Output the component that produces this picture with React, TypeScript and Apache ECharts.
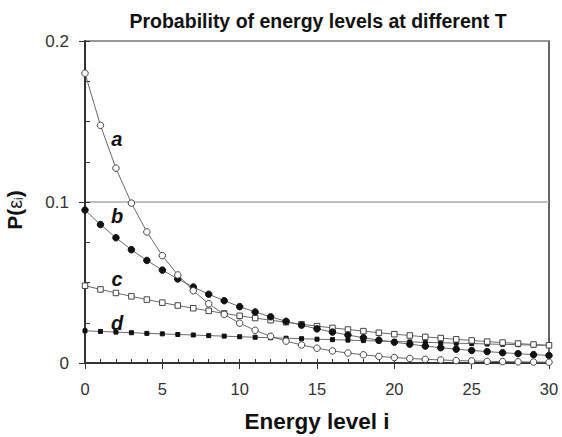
import React, { useEffect, useRef } from "react";
import * as echarts from "echarts";

const levels: number[] = Array.from({ length: 31 }, (_, i) => i);
const seriesA = [0.18, 0.1476, 0.121, 0.0993, 0.0814, 0.0667, 0.0547, 0.0449, 0.0368, 0.0302, 0.0247, 0.0203, 0.0166, 0.0136, 0.0112, 0.0092, 0.0075, 0.0062, 0.0051, 0.0041, 0.0034, 0.0028, 0.0023, 0.0019, 0.0015, 0.0013, 0.001, 0.0009, 0.0007, 0.0006, 0.0005];
const seriesB = [0.095, 0.086, 0.0778, 0.0704, 0.0637, 0.0577, 0.0522, 0.0472, 0.0427, 0.0387, 0.035, 0.0317, 0.0287, 0.0259, 0.0235, 0.0212, 0.0192, 0.0174, 0.0157, 0.0142, 0.0129, 0.0117, 0.0105, 0.0095, 0.0086, 0.0078, 0.0071, 0.0064, 0.0058, 0.0052, 0.0047];
const seriesC = [0.048, 0.0457, 0.0435, 0.0414, 0.0394, 0.0375, 0.0357, 0.034, 0.0324, 0.0308, 0.0293, 0.0279, 0.0266, 0.0253, 0.0241, 0.0229, 0.0218, 0.0208, 0.0198, 0.0188, 0.0179, 0.0171, 0.0162, 0.0155, 0.0147, 0.014, 0.0133, 0.0127, 0.0121, 0.0115, 0.011];
const seriesD = [0.02, 0.0196, 0.0192, 0.0188, 0.0184, 0.0181, 0.0177, 0.0174, 0.017, 0.0167, 0.0163, 0.016, 0.0157, 0.0154, 0.0151, 0.0148, 0.0145, 0.0142, 0.0139, 0.0136, 0.0134, 0.0131, 0.0128, 0.0126, 0.0123, 0.0121, 0.0118, 0.0116, 0.0114, 0.0111, 0.0109];
const curveNames = ["a", "b", "c", "d"];
const labelPos: [number, number][] = [[2.05, 0.139], [2.07, 0.091], [2.07, 0.052], [2.07, 0.025]];

const FONT = "'Liberation Sans', Arial, sans-serif";

export default function App() {
  const ref = useRef<HTMLDivElement>(null);
  useEffect(() => {
    document.body.style.margin = "0";
    const chart = echarts.init(ref.current!, undefined, { renderer: "svg" });
    const lineStyle = { color: "#6a6a6a", width: 1 };
    const mk = (i: number) => ({
      symbolSize: 0,
      silent: true,
      data: [
        {
          coord: labelPos[i],
          label: {
            show: true,
            position: "inside",
            formatter: curveNames[i],
            fontFamily: FONT,
            fontSize: 20,
            fontWeight: "bold",
            fontStyle: "italic",
            color: "#111",
          },
        },
      ],
    });
    const mkSeries = (i: number, vals: number[], symbol: string, size: number, fill: string, border: string) => ({
      type: "line",
      name: curveNames[i],
      data: levels.map((x, k) => [x, vals[k]]),
      xAxisIndex: 0,
      yAxisIndex: 0,
      symbol,
      symbolSize: size,
      showSymbol: true,
      lineStyle,
      itemStyle: { color: fill, borderColor: border, borderWidth: 1 },
      markPoint: mk(i),
      z: 5 - i,
    });
    chart.setOption({
      animation: false,
      textStyle: { fontFamily: FONT },
      title: {
        text: "Probability of energy levels at different T",
        left: 313,
        textAlign: "center",
        top: 6,
        textStyle: { fontFamily: FONT, fontSize: 19.5, fontWeight: "bold", color: "#111" },
      },
      grid: {
        left: 85,
        right: 13,
        top: 41,
        bottom: 74,
        outerBoundsMode: "none",
        containLabel: false,
        show: true,
        borderColor: "#333",
        borderWidth: 1.5,
        backgroundColor: "transparent",
      },
      xAxis: [
        {
          type: "value",
          min: 0,
          max: 30,
          interval: 5,
          axisLine: { show: true, lineStyle: { color: "#333", width: 2 } },
          axisTick: { show: true, inside: false, length: 6, lineStyle: { color: "#333", width: 1 } },
          axisLabel: { fontFamily: FONT, fontSize: 16.5, color: "#333", margin: 17 },
          splitLine: { show: false },
          name: "Energy level i",
          nameLocation: "middle",
          nameGap: 47,
          nameTextStyle: { fontFamily: FONT, fontSize: 22.5, fontWeight: "bold", color: "#111" },
        },
        {
          type: "value",
          min: 0,
          max: 30,
          interval: 1,
          position: "bottom",
          axisLine: { show: false },
          axisTick: { show: true, inside: true, length: 4, lineStyle: { color: "#333", width: 1 } },
          axisLabel: { show: false },
          splitLine: { show: false },
        },
      ],
      yAxis: [
        {
          type: "value",
          min: 0,
          max: 0.2,
          interval: 0.1,
          axisLine: { show: true, lineStyle: { color: "#333", width: 2 } },
          axisTick: { show: true, inside: false, length: 6, lineStyle: { color: "#333", width: 1 } },
          axisLabel: { fontFamily: FONT, fontSize: 17, color: "#333", margin: 16 },
          splitLine: { show: true, lineStyle: { color: "#aaa", width: 1.5 } },
          name: "{p|P(}{e|ε}{s|i}{p|)}",
          nameLocation: "middle",
          nameGap: 60,
          nameTextStyle: {
            color: "#111",
            padding: [0, 16, 0, 0],
            rich: {
              p: { fontFamily: FONT, fontSize: 21, fontWeight: "bold", color: "#111" },
              e: { fontFamily: FONT, fontSize: 20, color: "#222" },
              s: { fontFamily: FONT, fontSize: 12, color: "#222", verticalAlign: "bottom", padding: [8, 0, 0, 0] },
            },
          },
        },
        {
          type: "value",
          min: 0,
          max: 0.2,
          interval: 0.025,
          position: "left",
          axisLine: { show: false },
          axisTick: { show: true, inside: true, length: 5, lineStyle: { color: "#333", width: 1 } },
          axisLabel: { show: false },
          splitLine: { show: false },
        },
      ],
      series: [
        mkSeries(0, seriesA, "circle", 6.5, "#fff", "#444"),
        mkSeries(1, seriesB, "circle", 6.5, "#111", "#111"),
        mkSeries(2, seriesC, "rect", 5.5, "#fff", "#444"),
        mkSeries(3, seriesD, "rect", 4, "#111", "#111"),
      ],
    });
    return () => chart.dispose();
  }, []);
  return <div ref={ref} style={{ width: 562, height: 437 }} />;
}
